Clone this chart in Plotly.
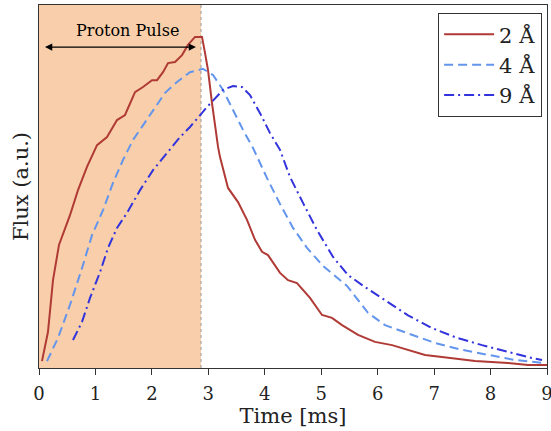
import plotly.graph_objects as go

# ---- data ----
t_2A = [0.053, 0.159, 0.248, 0.354, 0.549, 0.691, 0.850, 1.028, 1.205, 1.382, 1.524, 1.701, 1.843,
        2.002, 2.091, 2.197, 2.286, 2.410, 2.534, 2.640, 2.764, 2.888, 2.941, 2.994, 3.065, 3.118,
        3.172, 3.207, 3.349, 3.526, 3.685, 3.827, 3.951, 4.057, 4.270, 4.412, 4.571, 4.801, 5.014,
        5.191, 5.369, 5.652, 5.953, 6.254, 6.538, 6.839, 7.140, 7.725, 8.310, 8.664, 9.000]
f_2A = [0.019, 0.099, 0.242, 0.339, 0.421, 0.490, 0.554, 0.614, 0.636, 0.683, 0.697, 0.760, 0.774,
        0.793, 0.793, 0.815, 0.840, 0.843, 0.862, 0.890, 0.912, 0.912, 0.868, 0.821, 0.730, 0.664,
        0.609, 0.581, 0.496, 0.457, 0.408, 0.353, 0.320, 0.311, 0.262, 0.242, 0.234, 0.193, 0.146,
        0.138, 0.118, 0.091, 0.072, 0.063, 0.050, 0.036, 0.030, 0.019, 0.014, 0.008, 0.008]

t_4A = [0.142, 0.337, 0.549, 0.762, 0.939, 1.134, 1.311, 1.488, 1.665, 1.843, 2.020, 2.233, 2.445,
        2.675, 2.906, 3.083, 3.260, 3.437, 3.614, 3.792, 4.040, 4.270, 4.500, 4.748, 5.032, 5.457,
        5.829, 6.130, 6.538, 7.016, 7.495, 7.955, 8.434, 8.912]
f_4A = [0.019, 0.083, 0.174, 0.275, 0.366, 0.435, 0.510, 0.573, 0.628, 0.669, 0.711, 0.758, 0.788,
        0.815, 0.824, 0.807, 0.766, 0.711, 0.656, 0.606, 0.523, 0.452, 0.386, 0.331, 0.281, 0.226,
        0.152, 0.118, 0.096, 0.069, 0.050, 0.036, 0.022, 0.014]

t_9A = [0.602, 0.762, 0.904, 1.081, 1.223, 1.382, 1.559, 1.790, 2.020, 2.268, 2.498, 2.675, 2.977,
        3.260, 3.437, 3.597, 3.738, 3.916, 4.093, 4.270, 4.447, 4.677, 4.925, 5.209, 5.475, 5.776,
        6.130, 6.538, 6.963, 7.371, 7.849, 8.310, 8.664, 8.912]
f_9A = [0.077, 0.127, 0.193, 0.264, 0.331, 0.386, 0.427, 0.490, 0.545, 0.592, 0.636, 0.664, 0.719,
        0.766, 0.777, 0.774, 0.752, 0.702, 0.647, 0.601, 0.526, 0.455, 0.380, 0.306, 0.256, 0.223,
        0.187, 0.145, 0.110, 0.085, 0.063, 0.044, 0.030, 0.022]

pulse_end = 2.87
x_ticks = [0, 1, 2, 3, 4, 5, 6, 7, 8, 9]

FONT = "DejaVu Serif"

fig = go.Figure()
fig.add_trace(go.Scatter(x=t_2A, y=f_2A, mode="lines", name="2 Å",
                         line=dict(color="#b03a35", width=2)))
fig.add_trace(go.Scatter(x=t_4A, y=f_4A, mode="lines", name="4 Å",
                         line=dict(color="#6495ed", width=2, dash="9px,5px")))
fig.add_trace(go.Scatter(x=t_9A, y=f_9A, mode="lines", name="9 Å",
                         line=dict(color="#3333dd", width=2, dash="10px,4px,2px,4px")))

# shaded proton pulse region
fig.add_shape(type="rect", xref="x", yref="paper", x0=0, x1=pulse_end, y0=0, y1=1,
              fillcolor="#f8cfaa", line=dict(width=0), layer="below")
fig.add_shape(type="line", xref="x", yref="paper", x0=pulse_end, x1=pulse_end, y0=0, y1=1,
              line=dict(color="#999999", width=1, dash="dot"), layer="below")

# double arrow + label
fig.add_annotation(x=2.78, y=0.884, ax=0.08, ay=0.884, xref="x", yref="y", axref="x", ayref="y",
                   text="", showarrow=True, arrowhead=2, startarrowhead=2, arrowside="end+start",
                   arrowsize=1.2, startarrowsize=1.2, arrowwidth=1.2, arrowcolor="black")
fig.add_annotation(x=1.56, y=0.93, xref="x", yref="y", text="Proton Pulse",
                   showarrow=False, font=dict(family=FONT, size=16, color="black"))

fig.update_layout(
    width=551, height=431,
    margin=dict(l=39, r=4, t=5, b=63),
    paper_bgcolor="white", plot_bgcolor="white",
    font=dict(family=FONT, color="#222222"),
    showlegend=True,
    legend=dict(x=0.99, y=0.978, xanchor="right", yanchor="top",
                bgcolor="white", bordercolor="#333333", borderwidth=1.2,
                font=dict(family=FONT, size=21, color="#222222"),
                tracegroupgap=0, itemwidth=50),
    xaxis=dict(range=[0, 9], tickvals=x_ticks, ticktext=[str(v) for v in x_ticks],
               ticks="outside", ticklen=6, tickwidth=1.3, tickcolor="#333333",
               ticklabeloverflow="allow", automargin=False, ticklabelstandoff=3,
               showline=True, linecolor="#333333", linewidth=1.3, mirror=True,
               showgrid=False, zeroline=False,
               tickfont=dict(family=FONT, size=18, color="#222222"),
               title=dict(text="Time [ms]", font=dict(family=FONT, size=21, color="#222222"),
                          standoff=2)),
    yaxis=dict(range=[0, 1], showticklabels=False, ticks="", automargin=False,
               showline=True, linecolor="#333333", linewidth=1.3, mirror=True,
               showgrid=False, zeroline=False,
               title=dict(text="Flux (a.u.)", font=dict(family=FONT, size=21, color="#222222"),
                          standoff=3)),
)

fig.write_html("out.html")
